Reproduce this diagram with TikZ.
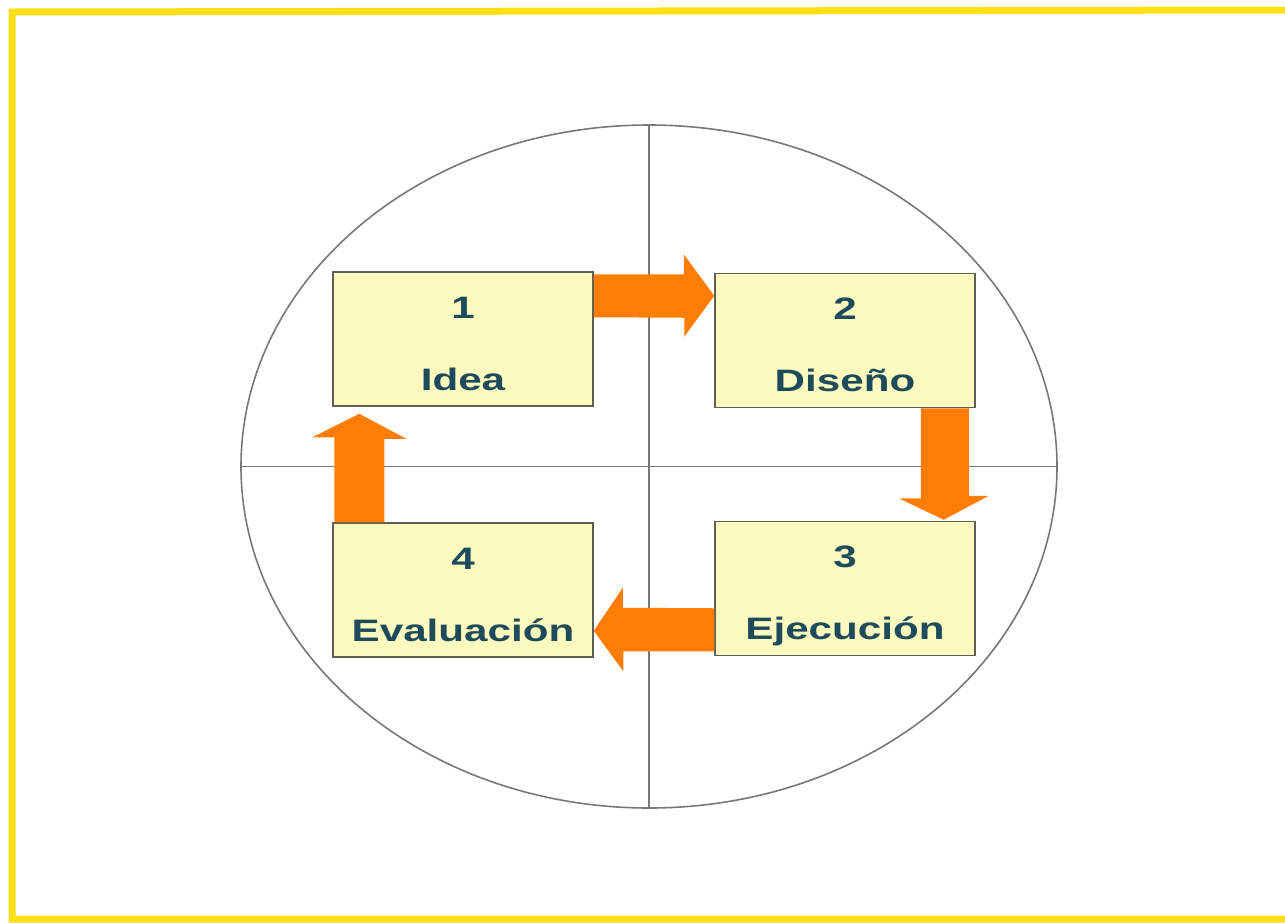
\documentclass[tikz,border=0pt]{standalone}
\usepackage{fontspec}
\newfontfamily\boxfont[FakeStretch=1.36]{Liberation Sans}
\usetikzlibrary{calc,shapes.geometric}
\definecolor{frameyellow}{RGB}{255,224,20}
\definecolor{boxfill}{RGB}{252,250,190}
\definecolor{boxline}{RGB}{95,95,85}
\definecolor{txt}{RGB}{30,75,92}
\definecolor{arrowor}{RGB}{255,125,5}
\definecolor{gridgrey}{RGB}{120,120,120}
\tikzset{
  stagebox/.style={draw=boxline, line width=1.5pt, fill=boxfill,
    minimum width=260pt, minimum height=134pt, inner sep=0pt},
  stagetext/.style={anchor=base, inner sep=0pt, text=txt,
    font=\boxfont\bfseries\fontsize{31pt}{36pt}\selectfont},
  flowarrow/.style={fill=arrowor, draw=none},
  guide/.style={draw=gridgrey, line width=1.6pt},
  framebar/.style={draw=frameyellow, line width=7pt}
}
\begin{document}
\begin{tikzpicture}[x=1pt,y=-1pt]
\useasboundingbox (0,0) rectangle (1285,922);
\fill[white] (0,0) rectangle (1285,922);
% yellow frame (right side lies outside the picture)
\draw[framebar] (1300,10) -- (12,12) -- (12,919) -- (1300,919);
% ellipse and cross
\node[guide, ellipse, minimum width=816pt, minimum height=683pt, inner sep=0pt] (ring) at (649,466.5) {};
\draw[guide] (ring.west) -- (ring.east);
\draw[guide] (ring.north) -- (ring.south);
% boxes
\node[stagebox] (b1) at (463,339) {};
\node[stagebox] (b2) at (845,340.5) {};
\node[stagebox] (b3) at (845,588.5) {};
\node[stagebox] (b4) at (463,590) {};
% box texts
\node[stagetext] (n1) at ($(b1.center)+(0,-21)$) {1};
\node[stagetext] (l1) at ($(b1.center)+(0,51)$) {Idea};
\node[stagetext] (n2) at ($(b2.center)+(0,-21)$) {2};
\node[stagetext] (l2) at ($(b2.center)+(0,51)$) {Dise\~no};
\node[stagetext] (n3) at ($(b3.center)+(0,-21)$) {3};
\node[stagetext] (l3) at ($(b3.center)+(0,51)$) {Ejecuci\'on};
\node[stagetext] (n4) at ($(b4.center)+(0,-21)$) {4};
\node[stagetext] (l4) at ($(b4.center)+(0,51)$) {Evaluaci\'on};
% arrow 1 -> 2
\fill[flowarrow] ($(b1.north east)+(0,3)$) -- ++(90,0) -- ++(0,-20)
  -- ($(b2.north west)+(0,23)$) -- ++(-30,41) -- ++(0,-19)
  -- ($(b1.north east)+(0,46)$) -- cycle;
% arrow 2 -> 3
\fill[flowarrow] ($(b2.south east)+(-55,0)$) -- ++(0,90) -- ++(-22,0)
  -- ($(b3.north east)+(-32,-1)$) -- ++(45,-24) -- ++(-20,0)
  -- ($(b2.south east)+(-7,0)$) -- cycle;
% arrow 3 -> 4
\fill[flowarrow] ($(b3.south west)+(0,-5)$) -- ++(-91,0) -- ++(0,20)
  -- ($(b4.south east)+(0,-27)$) -- ++(29,-43) -- ++(0,20)
  -- ($(b3.south west)+(0,-48)$) -- cycle;
% arrow 4 -> 1
\fill[flowarrow] ($(b4.north west)+(2,0)$) -- ++(0,-85) -- ++(-22,0)
  -- ($(b1.south west)+(27,7)$) -- ++(47,25) -- ++(-22,0)
  -- ($(b4.north west)+(52,0)$) -- cycle;
\end{tikzpicture}
\end{document}
